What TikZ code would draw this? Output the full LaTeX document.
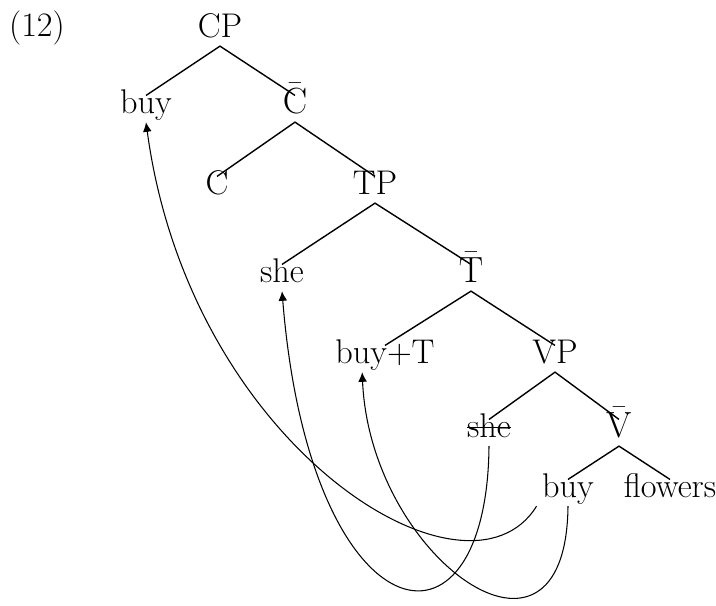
\documentclass[tikz,border=0pt]{standalone}
\usepackage{tikz}
\usetikzlibrary{arrows.meta}
\newsavebox{\strikebox}
\newcommand{\br}[1]{$\bar{\mathrm{#1}}$}
\newcommand{\gone}[1]{\sbox{\strikebox}{#1}\rlap{\rule[0.6ex]{\wd\strikebox}{0.6pt}}#1}
\tikzset{
    cat/.style={anchor=base, inner sep=3pt, text height=0.68em, text depth=0.2em,
        font=\fontsize{19.5}{23}\selectfont},
    branch/.style={line width=0.8pt},
    move/.style={line width=0.6pt, -{Latex[length=5.5pt,width=5pt]}}
}
\begin{document}
\begin{tikzpicture}[x=0.02cm, y=-0.02cm]
        \useasboundingbox (0,0) rectangle (716,605);

        \node[cat] (ex) at (37, 36) {(12)};

        \node[cat] (CP) at (220, 37) {CP};
        \node[cat] (buyC) at (146, 113) {buy};
        \node[cat] (Cbar) at (295, 113) {\br{C}};
        \node[cat] (C) at (217, 194) {C};
        \node[cat] (TP) at (375, 194) {TP};
        \node[cat] (sheT) at (282, 282) {she};
        \node[cat] (Tbar) at (471, 282) {\br{T}};
        \node[cat] (buyT) at (385, 363) {buy+T};
        \node[cat] (VP) at (555, 363) {VP};
        \node[cat] (sheV) at (489, 437) {\gone{she}};
        \node[cat] (Vbar) at (619, 437) {\br{V}};
        \node[cat] (buyV) at (568, 497) {buy};
        \node[cat] (flowers) at (670, 497) {flowers};

        \draw[branch] (buyC.north) -- (CP.south) -- (Cbar.north);
        \draw[branch] (C.north) -- (Cbar.south) -- (TP.north);
        \draw[branch] (sheT.north) -- (TP.south) -- (Tbar.north);
        \draw[branch] (buyT.north) -- (Tbar.south) -- (VP.north);
        \draw[branch] (sheV.north) -- (VP.south) -- (Vbar.north);
        \draw[branch] (buyV.north) -- (Vbar.south) -- (flowers.north);

        % head movement and subject raising
        \draw[move] (buyV.south west) .. controls +(-69,112) and +(44,326) .. (buyC.south);
        \draw[move] (sheV.south) .. controls +(-2,228) and +(28,347) .. (sheT.south);
        \draw[move] (buyV.south) .. controls +(-2,192) and +(8,186) .. ([xshift=-13pt]buyT.south);
\end{tikzpicture}
\end{document}
